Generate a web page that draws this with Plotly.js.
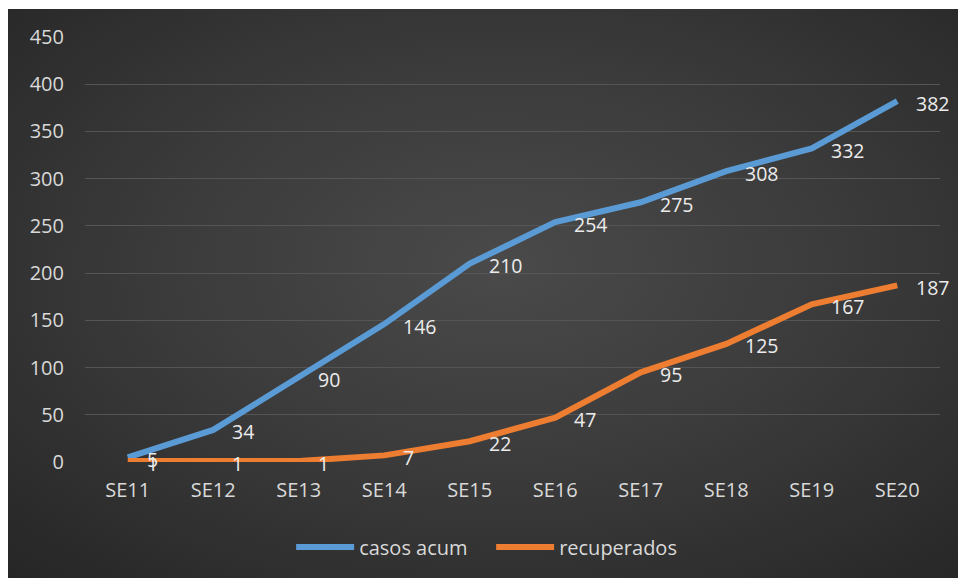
<!DOCTYPE html>
<html>
<head>
<meta charset="utf-8">
<script src="https://cdn.plot.ly/plotly-3.0.1.min.js"></script>
<style>
  html, body { margin: 0; padding: 0; background: #ffffff; width: 958px; height: 578px; overflow: hidden; }
  #chart {
    position: absolute; left: 8px; top: 9px; width: 950px; height: 569px;
    background: radial-gradient(ellipse 75% 75% at 52% 45%, #4a4a4a 0%, #3a3a3a 50%, #262626 100%);
  }
</style>
</head>
<body>
<div id="chart"></div>
<script>
const categories = ["SE11","SE12","SE13","SE14","SE15","SE16","SE17","SE18","SE19","SE20"];
const casosAcum = [5, 34, 90, 146, 210, 254, 275, 308, 332, 382];
const recuperados = [1, 1, 1, 7, 22, 47, 95, 125, 167, 187];
const seriesNames = ["casos acum", "recuperados"];
const yTicks = [0, 50, 100, 150, 200, 250, 300, 350, 400, 450];

const FONT = "Open Sans, DejaVu Sans, sans-serif";
const TXT = "#d9d9d9";
const LBL = "#ececec";
const BLUE = "#5b9bd5";
const ORANGE = "#ed7d31";

const traces = [
  { x: categories, y: casosAcum, name: seriesNames[0], type: "scatter", mode: "lines",
    line: { color: BLUE, width: 6 }, hoverinfo: "x+y" },
  { x: categories, y: recuperados, name: seriesNames[1], type: "scatter", mode: "lines",
    line: { color: ORANGE, width: 6 }, hoverinfo: "x+y" }
];

const annotations = [];
[casosAcum, recuperados].forEach(function (arr) {
  arr.forEach(function (v, i) {
    annotations.push({
      x: categories[i], y: v, xref: "x", yref: "y", text: String(v),
      showarrow: false, xanchor: "left", yanchor: "middle", xshift: 17, yshift: -2,
      font: { family: FONT, size: 19.5, color: LBL }
    });
  });
});

const layout = {
  width: 950, height: 569,
  paper_bgcolor: "rgba(0,0,0,0)", plot_bgcolor: "rgba(0,0,0,0)",
  margin: { l: 77, r: 18, t: 28, b: 116 },
  font: { family: FONT, color: TXT, size: 20 },
  showlegend: true,
  legend: {
    orientation: "h", x: 0.475, xanchor: "center", y: -0.2, yanchor: "middle",
    font: { family: FONT, size: 20, color: TXT }, itemwidth: 58,
    entrywidth: 127, entrywidthmode: "pixels",
    bgcolor: "rgba(0,0,0,0)", tracegroupgap: 0
  },
  xaxis: {
    type: "category", categoryarray: categories, range: [-0.5, categories.length - 0.5],
    showgrid: false, zeroline: false, showline: false, ticks: "",
    tickfont: { family: FONT, size: 20, color: TXT }, ticklabelstandoff: 14, fixedrange: true
  },
  yaxis: {
    range: [0, 450], tickvals: yTicks, ticktext: yTicks.map(String),
    showgrid: true, gridcolor: "#555555", gridwidth: 1, zeroline: false, showline: false, ticks: "",
    tickfont: { family: FONT, size: 20, color: TXT }, ticklabelstandoff: 20, fixedrange: true
  },
  annotations: annotations
};

Plotly.newPlot("chart", traces, layout, { displayModeBar: false, staticPlot: true });
</script>
</body>
</html>
